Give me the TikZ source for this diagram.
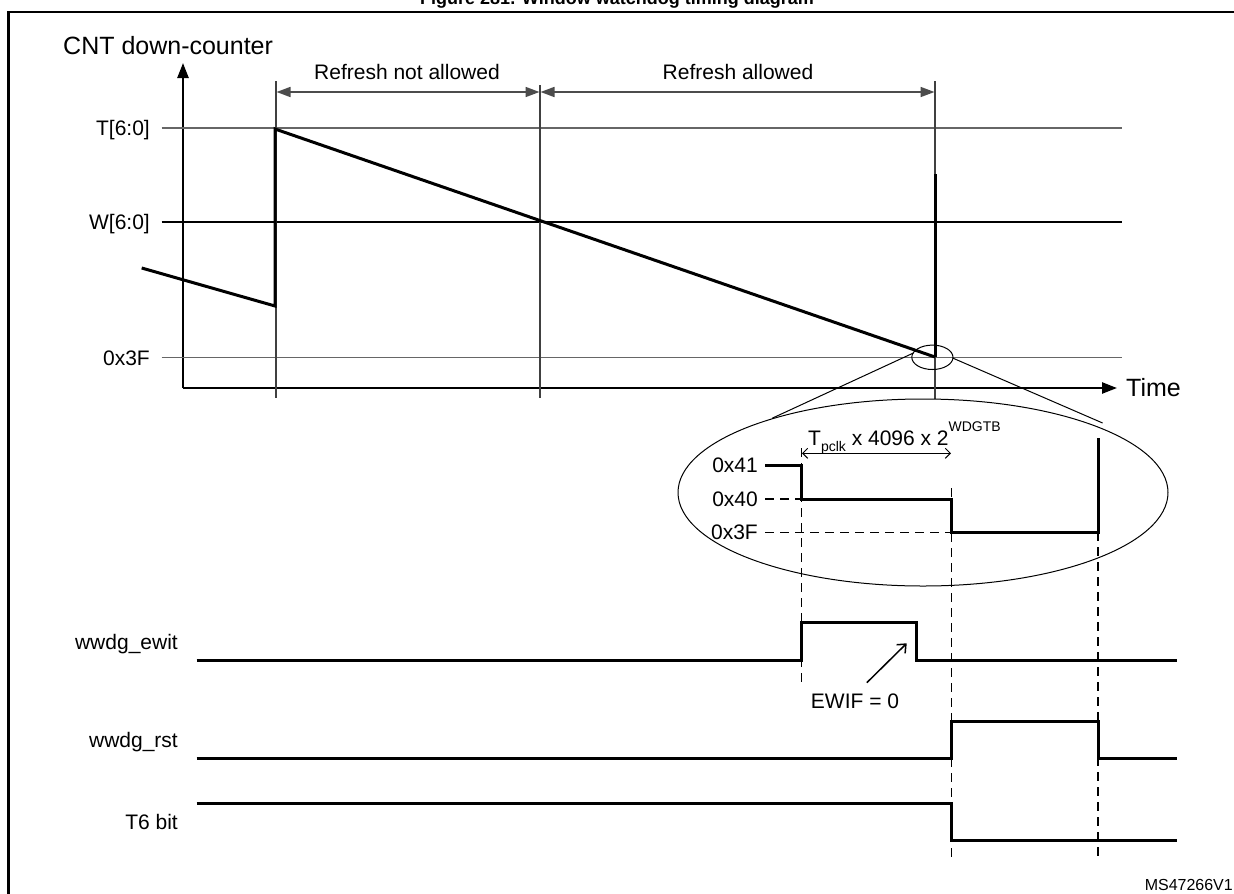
\documentclass[tikz,border=0pt]{standalone}
\usepackage{fontspec}
\setmainfont{Liberation Sans}
\usetikzlibrary{arrows.meta}
\begin{document}
\begin{tikzpicture}[x=1pt,y=-1pt,
  sig/.style={line width=3pt, line join=miter},
  gridg/.style={line width=1.8pt, draw=black!60},
  gridk/.style={line width=1.2pt, draw=black},
  vline/.style={line width=1.2pt, draw=black!75},
  dline/.style={line width=1.3pt, dash pattern=on 9pt off 6pt},
  axis/.style={line width=2.4pt, -{Triangle[length=15pt,width=11pt]}},
  dimarr/.style={line width=1.6pt, draw=black!70, {Triangle[length=14pt,width=10pt]}-{Triangle[length=14pt,width=10pt]}},
  lab/.style={font=\fontsize{21}{25}\selectfont, inner sep=0pt},
  big/.style={font=\fontsize{25}{30}\selectfont, inner sep=0pt},
  thinline/.style={line width=1pt}]
\useasboundingbox (0,0) rectangle (1234,894);
\clip (0,0) rectangle (1234,894);
\fill[white] (0,0) rectangle (1234,894);
% frame and title
\draw[line width=2.6pt] (1260,12) -- (8.5,12) -- (8.5,920);
\node[font=\bfseries\fontsize{18}{22}\selectfont, inner sep=0pt, anchor=base] (title) at (617,4.5) {Figure 281. Window watchdog timing diagram};
% axes
\coordinate (O) at (183,388);
\coordinate (Ytop) at (183,63);
\coordinate (Xend) at (1117,388);
\draw[axis] (O) -- (Ytop);
\draw[axis] (O) -- (Xend);
\node[big, anchor=base west] (cnt) at (63,54) {CNT down-counter};
\node[big, anchor=base west] (time) at (1126,396) {Time};
% level lines
\coordinate (Tl) at (161.5,128); \coordinate (Tr) at (1122,128);
\coordinate (Wl) at (161.5,222); \coordinate (Wr) at (1122,222);
\coordinate (Fl) at (161.5,357.5); \coordinate (Fr) at (1122,357.5);
\draw[gridg] (Tl) -- (Tr);
\draw[gridk] (Wl) -- (Wr);
\draw[gridg] (Fl) -- (Fr);
\node[lab, anchor=base east] (tlab) at (150,135.5) {T[6:0]};
\node[lab, anchor=base east] (wlab) at (150,229.5) {W[6:0]};
\node[lab, anchor=base east] (flab) at (150,365) {0x3F};
% vertical markers
\coordinate (v1t) at (276,81); \coordinate (v1b) at (276,398);
\coordinate (v2t) at (540,85); \coordinate (v2b) at (540,398);
\coordinate (v3t) at (935,81); \coordinate (v3b) at (935,399);
\draw[vline] (v1t) -- (v1b);
\draw[vline] (v2t) -- (v2b);
\draw[vline] (v3t) -- (v3b);
% refresh windows
\coordinate (d1) at (276.5,92); \coordinate (d2) at (539.5,92);
\coordinate (d3) at (540.5,92); \coordinate (d4) at (934.5,92);
\draw[dimarr] (d1) -- (d2);
\draw[dimarr] (d3) -- (d4);
\node[lab, anchor=base] (rna) at (407,79.5) {Refresh not allowed};
\node[lab, anchor=base] (ra) at (738,79.5) {Refresh allowed};
% counter
\coordinate (c0) at (141.7,268);
\coordinate (c1) at (275,306);
\coordinate (c2) at (275,129);
\coordinate (c3) at (935,357);
\coordinate (c4) at (935,174);
\draw[sig] (c0) -- (c1) -- (c2) -- (c3);
\draw[sig] (c4) -- (c3);
% zoom ellipses
\draw[thinline] (932.4,357.3) ellipse [x radius=20.6, y radius=12.2];
\draw[thinline] (923,492.5) ellipse [x radius=245, y radius=93.5];
\coordinate (zl1) at (913.4,353); \coordinate (zl2) at (772,418.3);
\coordinate (zr1) at (952.6,358); \coordinate (zr2) at (1102.6,423);
\draw[thinline] (zl1) -- (zl2);
\draw[thinline] (zr1) -- (zr2);
% zoomed counter
\coordinate (e1a) at (801.5,448); \coordinate (e1b) at (801.5,687);
\coordinate (e2a) at (951.5,488); \coordinate (e2b) at (951.5,858);
\coordinate (e3a) at (1098,532); \coordinate (e3b) at (1098,858);
\draw[dline] (e1a) -- (e1b);
\draw[dline] (e2a) -- (e2b);
\draw[dline] (e3a) -- (e3b);
\draw[dline] (765,499) -- (801.5,499);
\draw[dline] (765,532.3) -- (951.5,532.3);
\draw[sig] (765,465) -- (801.5,465) -- (801.5,499) -- (951.5,499) -- (951.5,532.3) -- (1098,532.3) -- (1098,437.5);
\node[lab, anchor=base east] (z41) at (758,472.5) {0x41};
\node[lab, anchor=base east] (z40) at (758,506.5) {0x40};
\node[lab, anchor=base east] (z3f) at (758,539.8) {0x3F};
\coordinate (tp1) at (802,453.3); \coordinate (tp2) at (951,453.3);
\draw[line width=1pt, {Straight Barb[length=5pt,width=10pt]}-{Straight Barb[length=5pt,width=10pt]}] (tp1) -- (tp2);
\node[lab, anchor=base west] (tpclk) at (808,445) {T\raisebox{-0.3em}{\fontsize{14}{14}\selectfont pclk} x 4096 x 2\raisebox{0.62em}{\fontsize{14}{14}\selectfont WDGTB}};
% signals
\draw[sig] (196.5,660) -- (801.5,660) -- (801.5,622.7) -- (916.5,622.7) -- (916.5,660) -- (1177,660);
\draw[sig] (196.5,758.3) -- (951.5,758.3) -- (951.5,721) -- (1098,721) -- (1098,758.3) -- (1177,758.3);
\draw[sig] (196.5,803) -- (951.5,803) -- (951.5,840.7) -- (1177,840.7);
\node[lab, anchor=base east] (ewit) at (178,649) {wwdg\_ewit};
\node[lab, anchor=base east] (rst) at (178,747) {wwdg\_rst};
\node[lab, anchor=base east] (t6) at (178,829) {T6 bit};
\node[lab, anchor=base] (ewif) at (855,708) {EWIF = 0};
\coordinate (ea1) at (866.8,682.7); \coordinate (ea2) at (906.7,643.3);
\draw[line width=1.5pt, -{Straight Barb[length=7pt,width=12pt]}] (ea1) -- (ea2);
\node[font=\fontsize{16}{19}\selectfont, inner sep=0pt, anchor=base east] (ms) at (1233,890) {MS47266V1};
\end{tikzpicture}
\end{document}
